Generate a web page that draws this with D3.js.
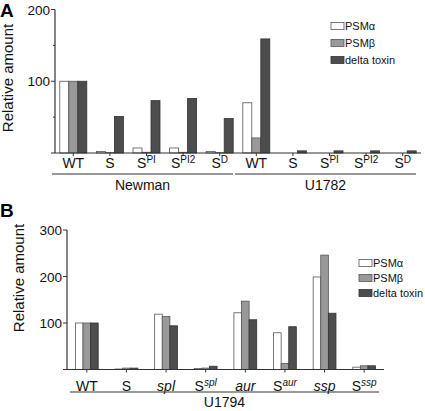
<!DOCTYPE html>
<html><head><meta charset="utf-8">
<script src="https://cdn.jsdelivr.net/npm/d3@7"></script>
<style>body{margin:0;background:#fff}svg{font-family:Arial,"Liberation Sans",sans-serif}</style>
</head><body><svg id="c" width="425" height="411"></svg>
<script>
const seriesNames = ["PSMα","PSMβ","delta toxin"];
const colors = ["#ffffff","#999999","#4d4d4d"];
// Panel A
const catsA = [["WT",""],["S",""],["S","PI"],["S","PI2"],["S","D"],["WT",""],["S",""],["S","PI"],["S","PI2"],["S","D"]];
const psmAlphaA = [100,2,7,7,2,70,0,0,0,0];
const psmBetaA  = [100,0.5,1,1,0.5,21,0,0,0,0];
const deltaA    = [100,51,73,76,48,159,3,3,3,3];
const ticksA = [0,100,200];
const minorA = [50,150];
const groupsA = [{name:"Newman",from:0,to:4},{name:"U1782",from:5,to:9}];
// Panel B
const catsB = [["WT","",false,false],["S","",false,false],["spl","",true,false],["S","spl",false,true],["aur","",true,false],["S","aur",false,true],["ssp","",true,false],["S","ssp",false,true]];
const psmAlphaB = [100,1,119,2,122,79,199,5];
const psmBetaB  = [100,3,114,3,147,13,246,8];
const deltaB    = [100,3,94,7,107,92,121,8];
const ticksB = [0,100,200,300];
const groupsB = [{name:"U1794",from:0,to:7}];

const svg = d3.select("#c");

function panel(cfg){
  const g = svg.append("g");
  const x = d3.scaleBand().domain(d3.range(cfg.cats.length)).range(cfg.xr);
  const y = d3.scaleLinear().domain([0,cfg.ymax]).range(cfg.yr);
  const data = [cfg.s0,cfg.s1,cfg.s2];
  const bw = cfg.bw;
  data.forEach((arr,si)=>{
    g.selectAll(null).data(arr).enter().append("rect")
      .attr("x",(d,i)=>x(i)+x.bandwidth()/2-1.5*bw+si*bw)
      .attr("y",d=>y(d))
      .attr("width",bw)
      .attr("height",d=>Math.max(0,y(0)-y(d)))
      .attr("fill",colors[si])
      .attr("stroke",si==2?"#333":"#555").attr("stroke-width",0.8);
  });
  // y axis
  g.append("line").attr("x1",cfg.xr[0]).attr("x2",cfg.xr[0]).attr("y1",y(cfg.ymax)).attr("y2",y(0)).attr("stroke","#333").attr("stroke-width",1.2);
  cfg.ticks.forEach(t=>{
    g.append("line").attr("x1",cfg.xr[0]-4).attr("x2",cfg.xr[0]).attr("y1",y(t)).attr("y2",y(t)).attr("stroke","#333");
    if(t>0) g.append("text").attr("x",cfg.xr[0]-5).attr("y",y(t)+5).attr("text-anchor","end").attr("font-size",13.5).attr("fill","#111").text(t);
  });
  (cfg.minor||[]).forEach(t=>{
    g.append("line").attr("x1",cfg.xr[0]-2).attr("x2",cfg.xr[0]).attr("y1",y(t)).attr("y2",y(t)).attr("stroke","#333");
  });
  // x axis
  g.append("line").attr("x1",cfg.xr[0]).attr("x2",cfg.xr[1]).attr("y1",y(0)).attr("y2",y(0)).attr("stroke","#333").attr("stroke-width",1.2);
  cfg.cats.forEach((c,i)=>{
    const cx = x(i)+x.bandwidth()/2;
    g.append("line").attr("x1",cx).attr("x2",cx).attr("y1",y(0)).attr("y2",y(0)+3).attr("stroke","#333");
    const t = g.append("text").attr("x",cx).attr("y",y(0)+cfg.labOff).attr("text-anchor","middle").attr("font-size",14).attr("fill","#111");
    t.append("tspan").text(c[0]).attr("font-style",c[2]?"italic":"normal");
    if(c[1]) t.append("tspan").text(c[1]).attr("font-size",10).attr("dy",-5).attr("font-style",c[3]?"italic":"normal");
  });
  cfg.groups.forEach(gr=>{
    const x0 = x(gr.from)+cfg.gpad[0], x1 = x(gr.to)+x.bandwidth()-cfg.gpad[1];
    g.append("line").attr("x1",x0).attr("x2",x1).attr("y1",cfg.gy).attr("y2",cfg.gy).attr("stroke","#333").attr("stroke-width",1);
    g.append("text").attr("x",(x0+x1)/2+cfg.gshift).attr("y",cfg.gy+cfg.gtOff).attr("text-anchor","middle").attr("font-size",14).attr("fill","#111").text(gr.name);
  });
  // y title
  g.append("text").attr("transform",`translate(${cfg.tx},${cfg.ty}) rotate(-90)`).attr("text-anchor","middle").attr("font-size",15).attr("fill","#111").text("Relative amount");
  // panel letter
  g.append("text").attr("x",0).attr("y",cfg.ly).attr("font-size",19).attr("font-weight","bold").attr("fill","#000").text(cfg.letter);
  // legend
  seriesNames.forEach((n,i)=>{
    const ly = cfg.leg[1]+i*cfg.legStep;
    g.append("rect").attr("x",cfg.leg[0]).attr("y",ly-3.5).attr("width",13).attr("height",7).attr("fill",colors[i]).attr("stroke",i==2?"#333":"#555").attr("stroke-width",0.8);
    g.append("text").attr("x",cfg.leg[0]+14).attr("y",ly+4).attr("font-size",11).attr("fill","#111").text(n);
  });
}

panel({cats:catsA,s0:psmAlphaA,s1:psmBetaA,s2:deltaA,ymax:200,xr:[55,421],yr:[153,9.5],bw:9,ticks:ticksA,minor:minorA,
  labOff:15,groups:groupsA,gpad:[-3,5],gy:174,gtOff:16,gshift:0,tx:13,ty:78,ly:17,letter:"A",leg:[331,26],legStep:17});
panel({cats:catsB,s0:psmAlphaB,s1:psmBetaB,s2:deltaB,ymax:300,xr:[67,384],yr:[369.5,230],bw:7.6,ticks:ticksB,
  labOff:21,groups:groupsB,gpad:[3,5],gy:392,gtOff:15,gshift:0,tx:24,ty:278,ly:217,letter:"B",leg:[359,263],legStep:15});
</script></body></html>
